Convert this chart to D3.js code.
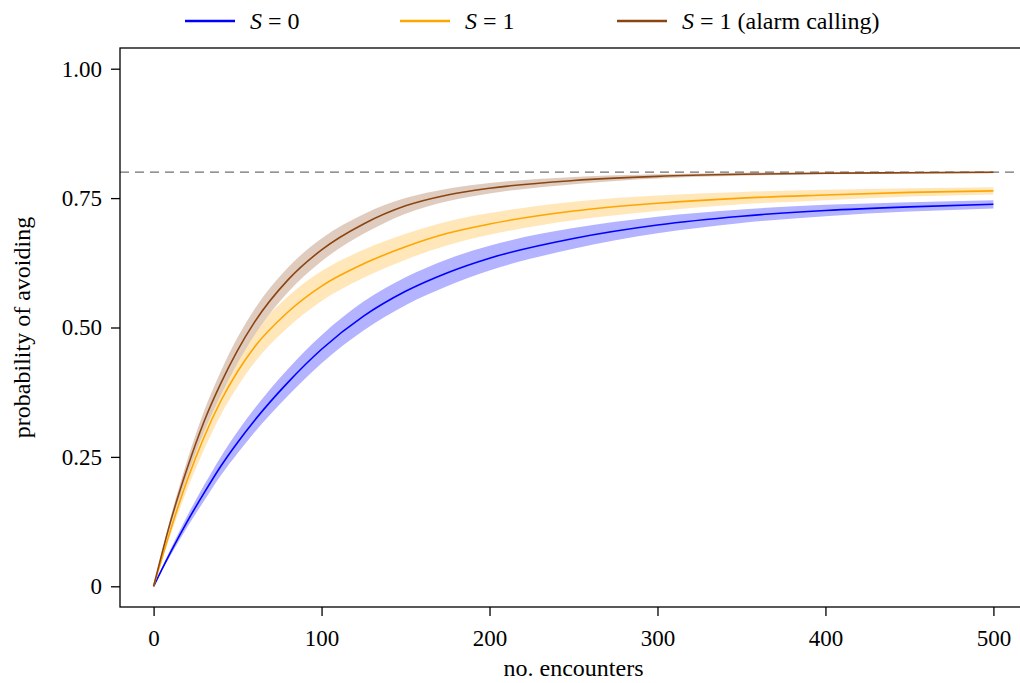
<!DOCTYPE html>
<html>
<head>
<meta charset="utf-8">
<script src="https://cdn.jsdelivr.net/npm/d3@7"></script>
<style>
  body { margin: 0; background: #fff; }
  text { font-family: "Liberation Serif", "DejaVu Serif", serif; fill: #000; }
</style>
</head>
<body>
<div id="chart"></div>
<script>
// data
var encounters = [0, 10, 20, 30, 40, 50, 60, 80, 100, 125, 150, 175, 200, 250, 300, 350, 400, 450, 500];

var s0Mean   = [0, 0.065, 0.125, 0.180, 0.232, 0.278, 0.320, 0.394, 0.458, 0.522, 0.570, 0.606, 0.634, 0.672, 0.698, 0.715, 0.726, 0.733, 0.738];
var s0Spread = [0, 0.006, 0.011, 0.015, 0.018, 0.021, 0.023, 0.026, 0.027, 0.028, 0.027, 0.026, 0.024, 0.020, 0.016, 0.013, 0.011, 0.009, 0.008];

var s1Mean   = [0, 0.108, 0.205, 0.288, 0.358, 0.415, 0.462, 0.530, 0.580, 0.623, 0.656, 0.682, 0.700, 0.725, 0.740, 0.750, 0.756, 0.761, 0.764];
var s1Spread = [0, 0.010, 0.018, 0.024, 0.027, 0.029, 0.030, 0.030, 0.029, 0.027, 0.025, 0.023, 0.021, 0.018, 0.015, 0.012, 0.010, 0.008, 0.007];

var alarmMean   = [0, 0.124, 0.228, 0.318, 0.392, 0.456, 0.510, 0.592, 0.650, 0.700, 0.735, 0.756, 0.769, 0.784, 0.792, 0.796, 0.798, 0.799, 0.800];
var alarmSpread = [0, 0.008, 0.015, 0.020, 0.023, 0.025, 0.025, 0.024, 0.022, 0.019, 0.015, 0.012, 0.010, 0.007, 0.004, 0.003, 0.002, 0.002, 0.002];

var asymptote = 0.8;
var xTicks = [0, 100, 200, 300, 400, 500];
var yTicks = [0, 0.25, 0.5, 0.75, 1];
var yTickLabels = ["0", "0.25", "0.50", "0.75", "1.00"];

var seriesNames = ["0", "1", "1 (alarm calling)"];
var lineColors = ["#0000ff", "#ffa500", "#8b4513"];
var bandColors = ["#b3b3ff", "#ffe4b3", "#dcc7b8"];

var svgWidth = 1020;
var svgHeight = 683;
var margin = { top: 48, right: -7, bottom: 76, left: 120 };
var chartWidth = svgWidth - margin.left - margin.right;
var chartHeight = svgHeight - margin.top - margin.bottom;

var svg = d3.select("#chart").append("svg")
            .attr("width", svgWidth)
            .attr("height", svgHeight);

var chartGroup = svg.append("g")
                    .attr("transform", `translate(${margin.left}, ${margin.top})`);

var xScale = d3.scaleLinear().domain([-20, 520]).range([0, chartWidth]);
var yScale = d3.scaleLinear().domain([-0.04, 1.04]).range([chartHeight, 0]);

var series = [
  { mean: s0Mean, spread: s0Spread },
  { mean: s1Mean, spread: s1Spread },
  { mean: alarmMean, spread: alarmSpread }
];

var area = d3.area()
  .x(d => xScale(d.x))
  .y0(d => yScale(d.m - d.s))
  .y1(d => yScale(d.m + d.s))
  .curve(d3.curveMonotoneX);

var line = d3.line()
  .x(d => xScale(d.x))
  .y(d => yScale(d.m))
  .curve(d3.curveMonotoneX);

// bands first, then lines on top
series.forEach((s, i) => {
  var pts = encounters.map((x, j) => ({ x: x, m: s.mean[j], s: s.spread[j] }));
  chartGroup.append("path")
    .datum(pts)
    .attr("d", area)
    .attr("fill", bandColors[i])
    .attr("fill-opacity", i == 0 ? 1 : 0.9);
});

chartGroup.append("line")
  .attr("x1", 0).attr("x2", chartWidth)
  .attr("y1", yScale(asymptote)).attr("y2", yScale(asymptote))
  .attr("stroke", "#707070")
  .attr("stroke-width", 1.3)
  .attr("stroke-dasharray", "9,6");

series.forEach((s, i) => {
  var pts = encounters.map((x, j) => ({ x: x, m: s.mean[j] }));
  chartGroup.append("path")
    .datum(pts)
    .attr("d", line)
    .attr("fill", "none")
    .attr("stroke", lineColors[i])
    .attr("stroke-width", 1.6);
});

// frame
chartGroup.append("rect")
  .attr("x", 0).attr("y", 0)
  .attr("width", chartWidth).attr("height", chartHeight)
  .attr("fill", "none")
  .attr("stroke", "#000")
  .attr("stroke-width", 1.3);

var bottomAxis = d3.axisBottom(xScale).tickValues(xTicks).tickSize(9).tickPadding(14).tickFormat(d3.format("d"));
var xAxisG = chartGroup.append("g")
  .attr("transform", `translate(0, ${chartHeight})`)
  .call(bottomAxis);

var leftAxis = d3.axisLeft(yScale).tickValues(yTicks).tickSize(9).tickPadding(9)
  .tickFormat((d, i) => yTickLabels[i]);
var yAxisG = chartGroup.append("g").call(leftAxis);

[xAxisG, yAxisG].forEach(g => {
  g.select(".domain").remove();
  g.selectAll(".tick line").attr("stroke", "#000").attr("stroke-width", 1.3);
  g.selectAll(".tick text")
    .style("font-family", "'Liberation Serif', serif")
    .style("font-size", "23px")
    .attr("fill", "#000");
});

chartGroup.append("text")
  .attr("x", chartWidth / 2)
  .attr("y", chartHeight + 69)
  .attr("text-anchor", "middle")
  .style("font-size", "24px")
  .text("no. encounters");

chartGroup.append("text")
  .attr("transform", "rotate(-90)")
  .attr("x", -chartHeight / 2)
  .attr("y", -90)
  .attr("text-anchor", "middle")
  .style("font-size", "24px")
  .text("probability of avoiding");

// legend
var legendX = [185, 400, 617];
var legend = svg.append("g");
seriesNames.forEach((name, i) => {
  legend.append("line")
    .attr("x1", legendX[i]).attr("x2", legendX[i] + 50)
    .attr("y1", 21).attr("y2", 21)
    .attr("stroke", lineColors[i])
    .attr("stroke-width", 2.5);
  var t = legend.append("text")
    .attr("x", legendX[i] + 65)
    .attr("y", 29)
    .style("font-size", "24px");
  t.append("tspan").style("font-style", "italic").text("S");
  t.append("tspan").text(" = " + name);
});
</script>
</body>
</html>
